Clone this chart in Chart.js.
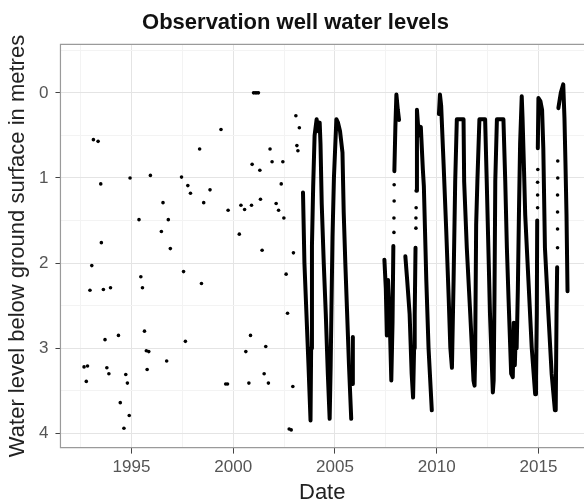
<!DOCTYPE html>
<html>
<head>
<meta charset="utf-8">
<script src="https://cdn.jsdelivr.net/npm/chart.js@4/dist/chart.umd.min.js"></script>
<style>
    html, body { margin: 0; padding: 0; background: #fff; }
</style>
</head>
<body>
<canvas id="wellChart" width="584" height="504"></canvas>
<script>
// sparse manual readings (decimal year, metres below ground)
const sparseDates = [
    1992.67, 1992.84, 1992.78, 1993.13, 1993.36, 1993.49, 1993.52, 1993.05, 1992.96, 1993.62,
    1993.97, 1993.70, 1994.36, 1993.79, 1993.89, 1994.72, 1994.80, 1994.45, 1994.89, 1994.63,
    1994.93, 1995.93, 1995.37, 1995.46, 1995.54, 1995.64, 1995.73, 1995.85, 1995.77, 1996.55,
    1996.47, 1996.81, 1996.91, 1996.73, 1997.46, 1997.77, 1997.90, 1997.56, 1997.65, 1998.35,
    1998.44, 1998.55, 1998.86, 1999.40, 1999.63, 1999.72, 1999.75, 2000.30, 2000.38, 2000.56,
    2000.90, 2000.77, 2000.62, 2000.85, 2001.00, 2001.08, 2001.16, 2001.24, 2000.93, 2001.31,
    2001.34, 2001.42, 2001.60, 2001.52, 2001.73, 2001.81, 2001.91, 2002.44, 2002.36, 2002.11,
    2002.23, 2002.49, 2002.96, 2002.60, 2002.67, 2002.93, 2002.75, 2002.85, 2003.08, 2003.25,
    2003.13, 2003.18
];
const sparseLevels = [
    3.22, 3.21, 3.39, 0.55, 0.57, 1.07, 1.76, 2.03, 2.32, 2.31,
    2.29, 2.90, 2.85, 3.23, 3.30, 3.31, 3.41, 3.64, 3.79, 3.94,
    1.00, 0.97, 1.49, 2.16, 2.29, 2.80, 3.03, 3.04, 3.25, 1.29,
    1.63, 1.49, 1.83, 3.15, 0.99, 1.09, 1.18, 2.10, 2.92, 0.66,
    2.24, 1.29, 1.14, 0.43, 3.42, 3.42, 1.38, 1.66, 1.32, 1.37,
    1.32, 3.41, 3.04, 2.85, 0.00, 0.00, 0.00, 0.00, 0.84, 0.91,
    1.25, 1.85, 2.98, 3.30, 3.41, 0.66, 0.81, 0.81, 1.07, 1.30,
    1.38, 1.47, 1.88, 2.13, 2.59, 3.45, 3.95, 3.96, 0.27, 0.41,
    0.62, 0.68
];

// logger record: continuous runs [year, level]
const run2003 = [
    [2003.43, 1.17], [2003.50, 2.0], [2003.60, 2.6], [2003.70, 3.2], [2003.80, 3.85],
    [2003.83, 3.0], [2003.87, 1.8], [2003.93, 1.1], [2004.00, 0.5], [2004.10, 0.31],
    [2004.17, 0.45], [2004.25, 0.35], [2004.29, 0.6],
    [2004.35, 1.3], [2004.45, 2.0], [2004.55, 2.6], [2004.65, 3.3], [2004.74, 3.83],
    [2004.79, 3.2], [2004.83, 2.5], [2004.88, 1.7], [2004.95, 1.0], [2005.07, 0.31],
    [2005.15, 0.35], [2005.25, 0.45], [2005.37, 0.7],
    [2005.43, 1.4], [2005.51, 2.0], [2005.60, 2.6], [2005.69, 3.2], [2005.80, 3.83]
];
const run2005 = [[2005.85, 3.42], [2005.88, 2.87]];
const run2007 = [
    [2007.43, 1.96], [2007.50, 2.3], [2007.55, 2.85], [2007.61, 2.2], [2007.69, 2.65],
    [2007.77, 3.38], [2007.83, 2.7], [2007.87, 1.8]
];
const run2008 = [[2007.92, 0.92], [2007.97, 0.4], [2008.02, 0.02], [2008.09, 0.2], [2008.15, 0.32]];
const run2008b = [
    [2008.46, 1.92], [2008.55, 2.2], [2008.67, 2.6], [2008.77, 3.3], [2008.84, 3.58],
    [2008.89, 3.0], [2008.92, 2.6], [2008.96, 1.82]
];
const run2009 = [
    [2009.00, 1.15], [2009.03, 0.2], [2009.12, 0.5], [2009.22, 0.4], [2009.32, 0.9],
    [2009.37, 1.1], [2009.49, 2.2], [2009.60, 3.0], [2009.76, 3.73]
];
const run2010 = [
    [2010.11, 0.25], [2010.16, 0.02], [2010.22, 0.15],
    [2010.34, 0.84], [2010.47, 1.62], [2010.59, 2.41], [2010.67, 2.99], [2010.75, 3.23],
    [2010.83, 2.21], [2010.91, 1.04], [2010.99, 0.31], [2011.32, 0.31],
    [2011.35, 1.04], [2011.48, 1.82], [2011.65, 2.6], [2011.81, 3.38], [2011.86, 3.44],
    [2011.89, 3.11], [2011.94, 1.55], [2012.00, 1.04], [2012.10, 0.31], [2012.38, 0.31],
    [2012.46, 1.04], [2012.54, 1.82], [2012.62, 2.6], [2012.76, 3.52],
    [2012.80, 3.38], [2012.84, 2.41], [2012.88, 1.04], [2012.96, 0.31], [2013.28, 0.31],
    [2013.37, 1.04], [2013.45, 1.82], [2013.53, 2.41], [2013.66, 3.3], [2013.74, 3.34],
    [2013.79, 2.7], [2013.84, 3.2], [2013.89, 2.8], [2013.93, 3.0],
    [2013.99, 2.3], [2014.05, 1.3], [2014.10, 0.6], [2014.18, 0.04],
    [2014.22, 0.3], [2014.28, 0.8],
    [2014.35, 1.43], [2014.51, 2.21], [2014.67, 2.99], [2014.84, 3.54],
    [2014.88, 3.38], [2014.92, 2.6], [2014.94, 1.5]
];
const run2015 = [
    [2014.97, 0.65], [2015.00, 0.06], [2015.10, 0.1], [2015.18, 0.2], [2015.24, 0.65],
    [2015.32, 1.82], [2015.49, 2.6], [2015.65, 3.3], [2015.81, 3.73],
    [2015.85, 3.73], [2015.89, 2.6], [2015.92, 2.05]
];
const run2016 = [
    [2015.98, 0.18], [2016.10, 0.0], [2016.22, -0.1], [2016.28, 0.3], [2016.33, 0.84],
    [2016.38, 1.43], [2016.43, 2.33]
];
// isolated readings during fast rises
const riseDots = [
    [2007.90, 1.64], [2007.90, 1.47], [2007.91, 1.27], [2007.91, 1.08],
    [2008.98, 1.59], [2008.98, 1.47], [2008.99, 1.35],
    [2014.96, 1.35], [2014.96, 1.2], [2014.96, 1.05], [2014.97, 0.9],
    [2015.94, 1.82], [2015.94, 1.6], [2015.94, 1.4], [2015.94, 1.2], [2015.95, 1.0], [2015.95, 0.8]
];

const xTicks = [1992.5, 1995, 1997.5, 2000, 2002.5, 2005, 2007.5, 2010, 2012.5, 2015];
const yTicks = [-0.5, 0, 0.5, 1, 1.5, 2, 2.5, 3, 3.5, 4];

const toXY = run => run.map(p => ({ x: p[0], y: p[1] }));
const isMajor = v => Number.isInteger(v);

const runs = [run2003, run2005, run2007, run2008, run2008b, run2009, run2010, run2015, run2016];
const datasets = runs.map(run => ({
    data: toXY(run),
    showLine: true,
    pointRadius: 0,
    borderColor: '#000',
    borderWidth: 4,
    borderJoinStyle: 'round',
    borderCapStyle: 'round'
}));
datasets.push({
    data: sparseDates.map((d, i) => ({ x: d, y: sparseLevels[i] })).concat(toXY(riseDots)),
    pointRadius: 1.8,
    pointBackgroundColor: '#000',
    pointBorderWidth: 0
});

// grey frame round the panel (right side runs off the picture)
const panelBorder = {
    id: 'panelBorder',
    afterDatasetsDraw(chart) {
        const { ctx, chartArea: a } = chart;
        ctx.save();
        ctx.strokeStyle = '#9a9a9a';
        ctx.lineWidth = 1.2;
        ctx.beginPath();
        ctx.moveTo(a.right + 2, a.top);
        ctx.lineTo(a.left, a.top);
        ctx.lineTo(a.left, a.bottom);
        ctx.lineTo(a.right + 2, a.bottom);
        ctx.stroke();
        ctx.restore();
    }
};

Chart.defaults.font.family = '"Liberation Sans", Arial, sans-serif';

new Chart(document.getElementById('wellChart'), {
    type: 'scatter',
    data: { datasets: datasets },
    plugins: [panelBorder],
    options: {
        responsive: false,
        animation: false,
        layout: { autoPadding: false, padding: { left: 7, top: 0, right: 0, bottom: 0 } },
        plugins: {
            legend: { display: false },
            tooltip: { enabled: false },
            title: {
                display: true,
                text: 'Observation well water levels',
                color: '#111',
                font: { size: 22, weight: 'bold' },
                padding: { top: 10, bottom: 8 }
            }
        },
        scales: {
            x: {
                type: 'linear',
                min: 1991.51,
                max: 2017.24,
                afterBuildTicks: scale => { scale.ticks = xTicks.map(v => ({ value: v })); },
                ticks: {
                    autoSkip: false,
                    maxRotation: 0,
                    color: '#555',
                    font: { size: 17 },
                    padding: 4,
                    callback: v => (v % 5 === 0 ? String(v) : '')
                },
                grid: {
                    color: ctx => (ctx.tick.value % 5 === 0 ? '#e4e4e4' : '#f3f3f3'),
                    tickColor: ctx => (ctx.tick.value % 5 === 0 ? '#444' : 'rgba(0,0,0,0)'),
                    tickLength: 6
                },
                border: { display: false },
                title: {
                    display: true,
                    text: 'Date',
                    color: '#222',
                    font: { size: 22, lineHeight: 1.0 },
                    padding: 0
                }
            },
            y: {
                type: 'linear',
                reverse: true,
                min: -0.569,
                max: 4.168,
                afterBuildTicks: scale => { scale.ticks = yTicks.map(v => ({ value: v })); },
                ticks: {
                    autoSkip: false,
                    color: '#555',
                    font: { size: 17 },
                    padding: 7,
                    callback: v => (isMajor(v) ? String(v) : '')
                },
                grid: {
                    color: ctx => (isMajor(ctx.tick.value) ? '#e4e4e4' : '#f3f3f3'),
                    tickColor: ctx => (isMajor(ctx.tick.value) ? '#444' : 'rgba(0,0,0,0)'),
                    tickLength: 5
                },
                border: { display: false },
                title: {
                    display: true,
                    text: 'Water level below ground surface in metres',
                    color: '#222',
                    font: { size: 22, lineHeight: 1.0 },
                    padding: { top: 0, bottom: 3 }
                }
            }
        }
    }
});
</script>
</body>
</html>
